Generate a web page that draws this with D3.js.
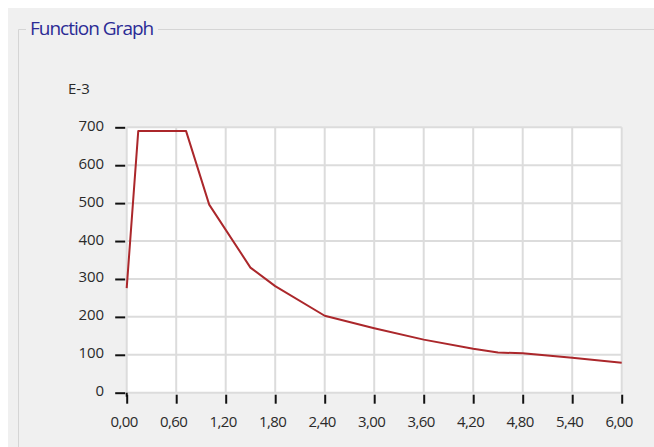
<!DOCTYPE html>
<html>
<head>
<meta charset="utf-8">
<script src="https://cdn.jsdelivr.net/npm/d3@7"></script>
<style>
  html, body { margin: 0; padding: 0; background: #ffffff; }
  svg { display: block; }
</style>
</head>
<body>
<svg id="chart" width="654" height="447"></svg>
<script>
// Data (period vs value, in units of E-3)
const periods = [0, 0.14, 0.72, 1.0, 1.5, 1.8, 2.4, 3.0, 3.6, 4.2, 4.5, 4.8, 5.4, 6.0];
const values  = [276, 690, 690, 496, 330, 281, 203, 170, 140, 116, 106, 104, 92, 79];
const xTicks = [0, 0.6, 1.2, 1.8, 2.4, 3.0, 3.6, 4.2, 4.8, 5.4, 6.0];
const yTicks = [0, 100, 200, 300, 400, 500, 600, 700];
const titleText = "Function Graph";
const unitText = "E-3";

const svg = d3.select("#chart");
const W = 654, H = 447;

// panel background
svg.append("rect").attr("x", 8).attr("y", 8).attr("width", W - 8).attr("height", H - 8)
  .attr("fill", "#f0f0f0");
// group box frame
svg.append("path")
  .attr("d", `M26,29.5 H18.5 V${H} M158,29.5 H${W}`)
  .attr("fill", "none").attr("stroke", "#d5d5d5").attr("stroke-width", 1);
svg.append("text").attr("x", 30).attr("y", 35)
  .attr("font-family", "'Open Sans', 'Noto Sans', sans-serif")
  .attr("font-size", 19).attr("letter-spacing", "-1")
  .attr("fill", "#2b2b95").text(titleText);

const x0 = 126.7, x1 = 621.7, yTop = 127.3, yBot = 392.7;
const x = d3.scaleLinear().domain([0, 6]).range([x0, x1]);
const y = d3.scaleLinear().domain([0, 700]).range([yBot, yTop]);

// plot background
svg.append("rect").attr("x", x0).attr("y", yTop).attr("width", x1 - x0).attr("height", yBot - yTop)
  .attr("fill", "#ffffff");

// grid
const grid = svg.append("g").attr("stroke", "#dcdcdc").attr("stroke-width", 2);
grid.selectAll("line.v").data(xTicks).join("line")
  .attr("x1", d => x(d)).attr("x2", d => x(d)).attr("y1", yTop).attr("y2", yBot);
grid.selectAll("line.h").data(yTicks).join("line")
  .attr("y1", d => y(d)).attr("y2", d => y(d)).attr("x1", x0).attr("x2", x1);

const fmt = d => d.toFixed(2).replace(".", ",");
const font = "'Open Sans', 'Noto Sans', sans-serif";

// x axis
const xAxis = d3.axisBottom(x).tickValues(xTicks).tickFormat(fmt).tickSize(9).tickPadding(13);
const gx = svg.append("g").attr("transform", `translate(0,${yBot + 2})`).call(xAxis);
gx.select(".domain").remove();
gx.selectAll(".tick line").attr("stroke", "#111").attr("stroke-width", 2);
gx.selectAll(".tick text").attr("font-family", font).attr("font-size", 15)
  .attr("fill", "#2a2a2a").attr("letter-spacing", "-0.6").attr("dx", -3);

// y axis
const yAxis = d3.axisLeft(y).tickValues(yTicks).tickSize(10).tickPadding(11);
const gy = svg.append("g").attr("transform", `translate(${x0 - 1.5},0)`).call(yAxis);
gy.select(".domain").remove();
gy.selectAll(".tick line").attr("stroke", "#111").attr("stroke-width", 2);
gy.selectAll(".tick text").attr("font-family", font).attr("font-size", 15)
  .attr("fill", "#2a2a2a").attr("dy", "0.2em");
// corner joint at origin
svg.append("line").attr("x1", x0).attr("x2", x0).attr("y1", yBot).attr("y2", yBot + 4)
  .attr("stroke", "#111").attr("stroke-width", 2);

svg.append("text").attr("x", 68).attr("y", 94).attr("font-family", font)
  .attr("font-size", 15).attr("fill", "#2a2a2a").text(unitText);

// curve
const pts = periods.map((p, i) => [p, values[i]]);
svg.append("path").datum(pts)
  .attr("d", d3.line().x(d => x(d[0])).y(d => y(d[1])))
  .attr("fill", "none").attr("stroke", "#ab272b").attr("stroke-width", 2)
  .attr("stroke-linejoin", "round");
</script>
</body>
</html>
